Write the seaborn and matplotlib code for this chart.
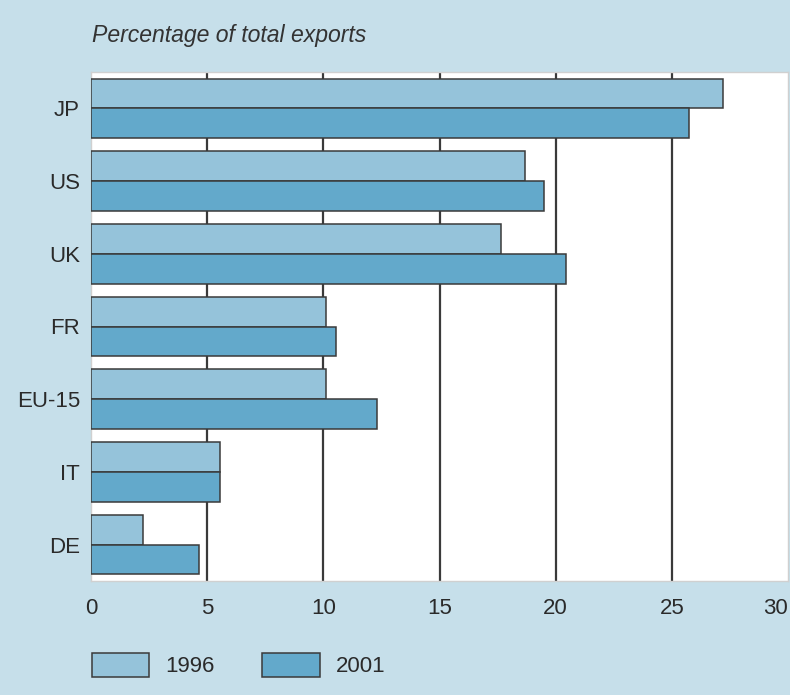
import matplotlib
matplotlib.use("Agg")
import matplotlib.pyplot as plt
import seaborn as sns
import pandas as pd

countries = ["JP", "US", "UK", "FR", "EU-15", "IT", "DE"]
years = ["1996", "2001"]
values_1996 = [27.2, 18.7, 17.65, 10.1, 10.1, 5.57, 2.25]
values_2001 = [25.75, 19.5, 20.45, 10.53, 12.33, 5.57, 4.67]
x_ticks = [0, 5, 10, 15, 20, 25, 30]
title = "Percentage of total exports"

df = pd.DataFrame({
    "country": countries * 2,
    "year": [years[0]] * len(countries) + [years[1]] * len(countries),
    "value": values_1996 + values_2001,
})

sns.set_theme(style="white")
plt.rcParams["font.family"] = ["Liberation Sans", "DejaVu Sans"]

bg = "#c6dfea"
txt = "#2a2a2a"
fig = plt.figure(figsize=(7.9, 6.95), dpi=100, facecolor=bg)
ax = fig.add_axes([91 / 790, 1 - 581 / 695, (788 - 91) / 790, (581 - 72) / 695])
ax.set_facecolor("white")

palette = {"1996": "#95c3da", "2001": "#63a9cb"}
sns.barplot(data=df, x="value", y="country", hue="year", order=countries,
            hue_order=years, palette=palette, orient="h", width=0.82,
            edgecolor="#3a3a3a", linewidth=1.1, saturation=1, ax=ax, zorder=3)

ax.set_xlim(0, 30)
ax.set_ylim(6.5, -0.5)
ax.set_xticks(x_ticks)
ax.set_xticklabels([str(t) for t in x_ticks])
for t in x_ticks[1:-1]:
    ax.axvline(t, color="#3a3a3a", lw=1.6, zorder=1)

ax.set_xlabel("")
ax.set_ylabel("")
ax.tick_params(axis="x", length=0, pad=12, labelsize=16, labelcolor=txt)
ax.tick_params(axis="y", length=0, pad=8, labelsize=16, labelcolor=txt)
ax.get_xticklabels()[-1].set_horizontalalignment("right")
for s in ax.spines.values():
    s.set_color("#d0d0d0")
    s.set_linewidth(1)

fig.text(92 / 790, 1 - 42 / 695, title, fontsize=16.6, style="italic",
         color="#333333", va="baseline", ha="left")

handles, labels = ax.get_legend_handles_labels()
if ax.legend_:
    ax.legend_.remove()
fig.legend(handles, labels, loc="center left",
           bbox_to_anchor=(92 / 790, 1 - 665 / 695), frameon=False,
           ncol=2, handlelength=2.57, handleheight=1.3, handletextpad=0.72,
           columnspacing=2.16, borderpad=0, borderaxespad=0, fontsize=16,
           labelcolor=txt)

fig.savefig("out.png", dpi=100, facecolor=bg)
